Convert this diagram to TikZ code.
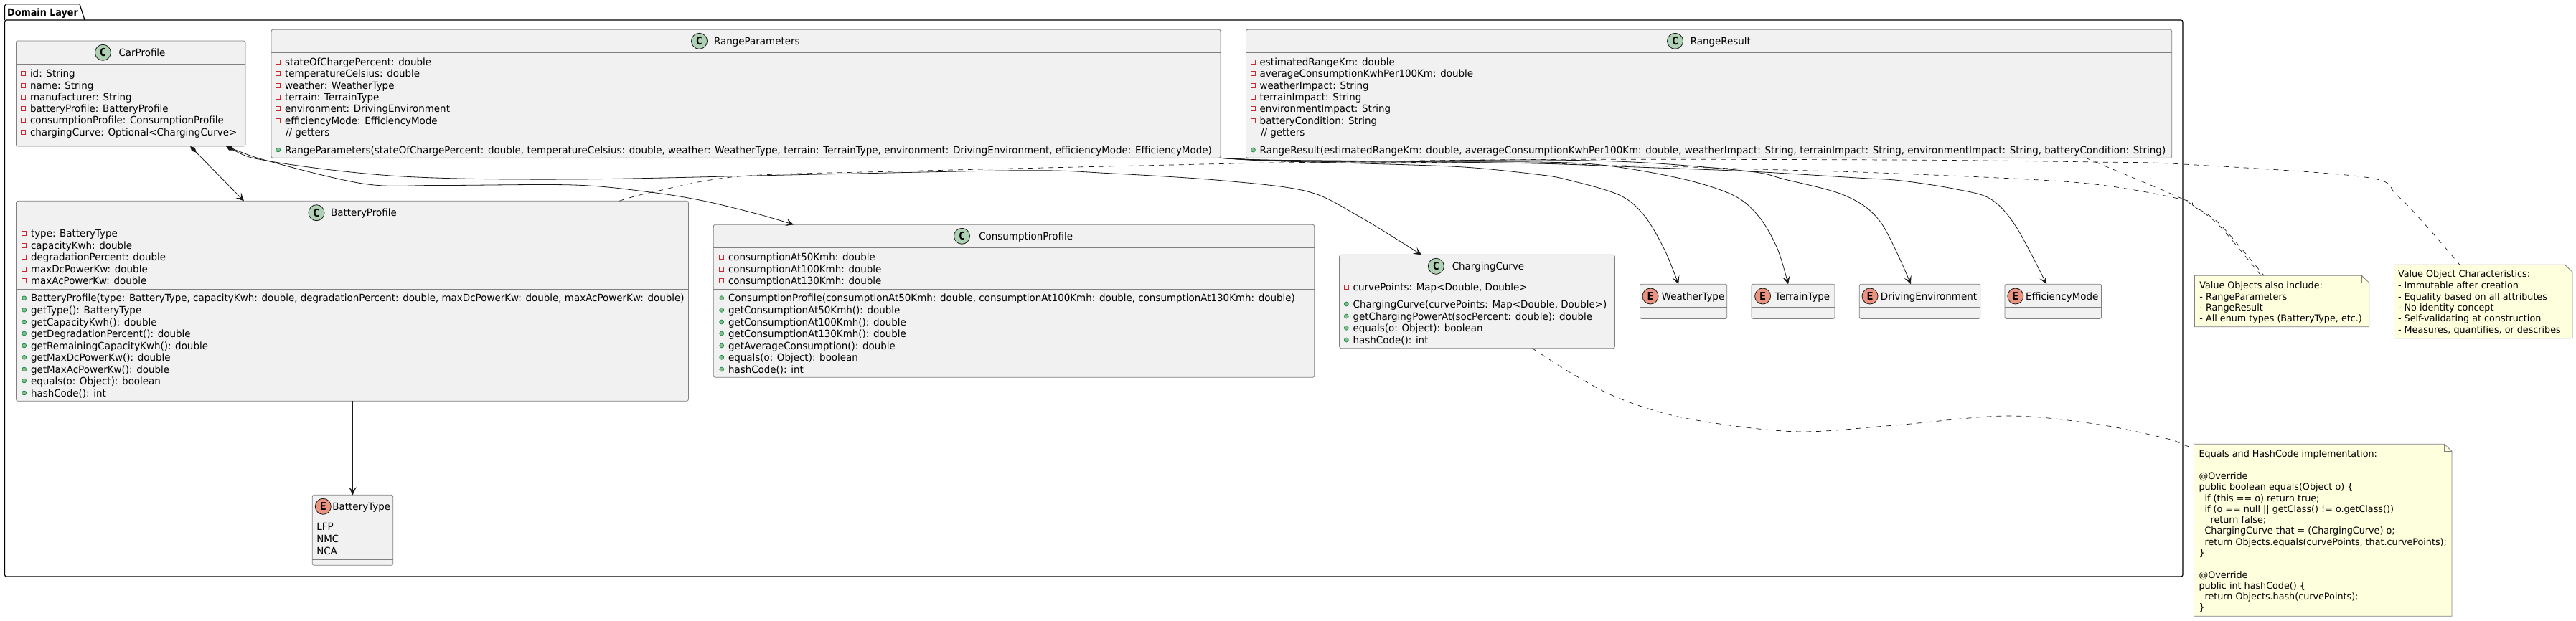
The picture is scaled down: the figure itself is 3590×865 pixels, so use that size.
\documentclass[tikz,border=0pt]{standalone}
\usepackage{fontspec}
\setmainfont[FakeStretch=0.96]{DejaVu Sans}
\newfontfamily\notefont[FakeStretch=0.98]{DejaVu Sans}
\newfontfamily\iconfont{DejaVu Sans Mono}
\newfontfamily\pkgfont[FakeStretch=0.91]{DejaVu Sans}
\usetikzlibrary{arrows.meta}
\definecolor{lineink}{HTML}{181818}
\definecolor{boxedge}{HTML}{808080}
\definecolor{boxfill}{HTML}{F1F1F1}
\definecolor{classicon}{HTML}{ADD1B2}
\definecolor{enumicon}{HTML}{EB937F}
\definecolor{notefill}{HTML}{FEFFDD}
\definecolor{privred}{HTML}{C82930}
\definecolor{pubgreen}{HTML}{84BE84}
\definecolor{pubedge}{HTML}{038048}
\newcounter{lbl}
\tikzset{
  x=1pt,y=-1pt,
  umlbox/.style={draw=boxedge,fill=boxfill,line width=0.8pt,rounded corners=2.5pt,inner sep=0pt,outer sep=0pt},
  umlsep/.style={draw=boxedge,line width=0.8pt},
  member/.style={anchor=base west,inner sep=0pt,outer sep=0pt,font=\fontsize{14}{16}\selectfont,text=black},
  title/.style={anchor=base,inner sep=0pt,outer sep=0pt,font=\fontsize{14}{16}\selectfont,text=black},
  notetext/.style={anchor=base west,inner sep=0pt,outer sep=0pt,font=\notefont\fontsize{13}{15}\selectfont,text=black},
  privmark/.style={draw=privred,line width=0.8pt,fill=none,minimum size=6pt,inner sep=0pt,outer sep=0pt},
  pubmark/.style={circle,draw=pubedge,line width=0.6pt,fill=pubgreen,minimum size=6pt,inner sep=0pt,outer sep=0pt},
  iconmark/.style={circle,draw=lineink,line width=0.8pt,minimum size=22pt,inner sep=0pt,outer sep=0pt,font=\iconfont\bfseries\fontsize{15}{15}\selectfont,text=black},
  assoc/.style={draw=lineink,line width=0.8pt,arrows={-Stealth[length=11pt,width=10.5pt,inset=5pt]}},
  compo/.style={draw=lineink,line width=0.8pt,arrows={Diamond[length=12pt,width=6.5pt]-Stealth[length=11pt,width=10.5pt,inset=5pt]}},
  notelink/.style={draw=lineink,line width=0.7pt,dash pattern=on 7pt off 7pt},
  notebody/.style={draw=boxedge,line width=0.8pt,fill=notefill},
  anchorbox/.style={inner sep=0pt,outer sep=0pt},
}
\newcommand\mkbox[5]{%
  \pgfmathsetmacro\bxa{#2}\pgfmathsetmacro\bxb{#4}%
  \pgfmathsetmacro\bcx{(#2+#4)/2}\pgfmathsetmacro\bcy{(#3+#5)/2}%
  \pgfmathsetmacro\bw{#4-#2}\pgfmathsetmacro\bh{#5-#3}%
  \node[umlbox,minimum width=\bw pt,minimum height=\bh pt] (#1) at (\bcx,\bcy) {};}
\newcommand\hsep[1]{\draw[umlsep] (\bxa,#1) -- (\bxb,#1);}
\newcommand\classhead[5]{% icon x, y, icon letter colour, letter, title centre x
  \stepcounter{lbl}\node[iconmark,fill=#3] (ic\arabic{lbl}) at (#1,#2) {#4};%
  \pgfmathsetmacro\bsl{#2+5}\node[title] (tt\arabic{lbl}) at (#5,\bsl) {\umltitle};}
\newcommand\umltitle{}
\newcommand\cname[6]{\renewcommand\umltitle{#6}\classhead{#1}{#2}{#3}{#4}{#5}}
\newcommand\privline[3]{\stepcounter{lbl}\pgfmathsetmacro\mx{#1-9.3}\pgfmathsetmacro\bsl{#2+5}%
  \node[privmark] (pm\arabic{lbl}) at (\mx,#2) {};\node[member] (pt\arabic{lbl}) at (#1,\bsl) {#3};}
\newcommand\publine[3]{\stepcounter{lbl}\pgfmathsetmacro\mx{#1-9.3}\pgfmathsetmacro\bsl{#2+5}%
  \node[pubmark] (pm\arabic{lbl}) at (\mx,#2) {};\node[member] (pt\arabic{lbl}) at (#1,\bsl) {#3};}
\newcommand\plainline[3]{\stepcounter{lbl}\pgfmathsetmacro\bsl{#2+5}\node[member] (pt\arabic{lbl}) at (#1,\bsl) {#3};}
\newcommand\noteline[3]{\stepcounter{lbl}\pgfmathsetmacro\bsl{#2+4.5}\node[notetext] (nt\arabic{lbl}) at (#1,\bsl) {#3};}
\newcommand\mknote[5]{% name x0 y0 x1 y1
  \pgfmathsetmacro\bcx{(#2+#4)/2}\pgfmathsetmacro\bcy{(#3+#5)/2}%
  \pgfmathsetmacro\bw{#4-#2}\pgfmathsetmacro\bh{#5-#3}%
  \pgfmathsetmacro\fx{#4-10.5}\pgfmathsetmacro\fy{#3+10}%
  \node[anchorbox,minimum width=\bw pt,minimum height=\bh pt] (#1) at (\bcx,\bcy) {};%
  \draw[notebody] (#2,#3) -- (\fx,#3) -- (#4,\fy) -- (#4,#5) -- (#2,#5) -- cycle;%
  \draw[umlsep] (\fx,#3) -- (\fx,\fy) -- (#4,\fy);}
\begin{document}
\begin{tikzpicture}
\useasboundingbox (0,0) rectangle (3590,865);
\fill[white] (0,0) rectangle (3590,865);

% package
\draw[black,line width=1.2pt,line join=round] (6.6,28) -- (6.6,8) -- (9,5.7) -- (111,5.7) -- (118,28);
\node[draw=black,line width=1.2pt,rounded corners=2.5pt,inner sep=0pt,outer sep=0pt,minimum width=3035.4pt,minimum height=776pt] (pkg) at (1524.3,416) {};
\node[anchor=base west,inner sep=0pt,font=\pkgfont\bfseries\fontsize{14}{16}\selectfont] (pkgtitle) at (10,22) {Domain Layer};

% CarProfile
\mkbox{car}{22.4}{57}{342}{204}\hsep{89.5}\hsep{196.5}
\cname{143.4}{73.3}{classicon}{C}{198}{CarProfile}
\privline{42}{102.3}{id: String}
\privline{42}{119}{name: String}
\privline{42}{135}{manufacturer: String}
\privline{42}{151}{batteryProfile: BatteryProfile}
\privline{42}{167.7}{consumptionProfile: ConsumptionProfile}
\privline{42}{184}{chargingCurve: Optional<ChargingCurve>}

% RangeParameters
\mkbox{rp}{378}{41.3}{1701}{220.3}\hsep{73.3}\hsep{196.3}
\cname{974.5}{57.3}{classicon}{C}{1054.8}{RangeParameters}
\privline{397}{86}{stateOfChargePercent: double}
\privline{397}{102}{temperatureCelsius: double}
\privline{397}{119}{weather: WeatherType}
\privline{397}{135}{terrain: TerrainType}
\privline{397}{151}{environment: DrivingEnvironment}
\privline{397}{168}{efficiencyMode: EfficiencyMode}
\plainline{398}{184}{// getters}
\publine{397}{209}{RangeParameters(stateOfChargePercent: double, temperatureCelsius: double, weather: WeatherType, terrain: TerrainType, environment: DrivingEnvironment, efficiencyMode: EfficiencyMode)}

% RangeResult
\mkbox{rr}{1736.4}{41.3}{3026.7}{220.3}\hsep{73.3}\hsep{196.3}
\cname{2334.5}{57.3}{classicon}{C}{2397.8}{RangeResult}
\privline{1755.7}{86}{estimatedRangeKm: double}
\privline{1755.7}{102}{averageConsumptionKwhPer100Km: double}
\privline{1755.7}{119}{weatherImpact: String}
\privline{1755.7}{135}{terrainImpact: String}
\privline{1755.7}{151}{environmentImpact: String}
\privline{1755.7}{168}{batteryCondition: String}
\plainline{1757}{184}{// getters}
\publine{1755.7}{209}{RangeResult(estimatedRangeKm: double, averageConsumptionKwhPer100Km: double, weatherImpact: String, terrainImpact: String, environmentImpact: String, batteryCondition: String)}

% BatteryProfile
\mkbox{bp}{22.5}{280.3}{959.4}{559.3}\hsep{312.3}\hsep{403.7}
\cname{441}{296.7}{classicon}{C}{507}{BatteryProfile}
\privline{43}{325}{type: BatteryType}
\privline{43}{342}{capacityKwh: double}
\privline{43}{358}{degradationPercent: double}
\privline{43}{375}{maxDcPowerKw: double}
\privline{43}{391}{maxAcPowerKw: double}
\publine{43}{415.7}{BatteryProfile(type: BatteryType, capacityKwh: double, degradationPercent: double, maxDcPowerKw: double, maxAcPowerKw: double)}
\publine{43}{432.3}{getType(): BatteryType}
\publine{43}{449}{getCapacityKwh(): double}
\publine{43}{465}{getDegradationPercent(): double}
\publine{43}{482}{getRemainingCapacityKwh(): double}
\publine{43}{498.3}{getMaxDcPowerKw(): double}
\publine{43}{515}{getMaxAcPowerKw(): double}
\publine{43}{531}{equals(o: Object): boolean}
\publine{43}{548}{hashCode(): int}

% ConsumptionProfile
\mkbox{cp}{994.3}{313.3}{1831.8}{526.3}\hsep{345.3}\hsep{403.7}
\cname{1340.5}{329.3}{classicon}{C}{1429.7}{ConsumptionProfile}
\privline{1015}{358}{consumptionAt50Kmh: double}
\privline{1015}{375}{consumptionAt100Kmh: double}
\privline{1015}{391}{consumptionAt130Kmh: double}
\publine{1015}{415.7}{ConsumptionProfile(consumptionAt50Kmh: double, consumptionAt100Kmh: double, consumptionAt130Kmh: double)}
\publine{1015}{432.3}{getConsumptionAt50Kmh(): double}
\publine{1015}{449}{getConsumptionAt100Kmh(): double}
\publine{1015}{465}{getConsumptionAt130Kmh(): double}
\publine{1015}{482}{getAverageConsumption(): double}
\publine{1015}{498.3}{equals(o: Object): boolean}
\publine{1015}{515}{hashCode(): int}

% ChargingCurve
\mkbox{cc}{1866.6}{355.3}{2250.4}{485.7}\hsep{387.3}\hsep{411.7}
\cname{2001.3}{371.3}{classicon}{C}{2074}{ChargingCurve}
\privline{1885.6}{400.3}{curvePoints: Map<Double, Double>}
\publine{1885.6}{424}{ChargingCurve(curvePoints: Map<Double, Double>)}
\publine{1885.6}{441}{getChargingPowerAt(socPercent: double): double}
\publine{1885.6}{457.3}{equals(o: Object): boolean}
\publine{1885.6}{474}{hashCode(): int}

% enums
\mkbox{wt}{2285.5}{396.2}{2406.8}{444.5}\hsep{428.3}\hsep{436.3}
\cname{2300}{413}{enumicon}{E}{2359.5}{WeatherType}
\mkbox{tt}{2441}{396.2}{2557}{444.5}\hsep{428.3}\hsep{436.3}
\cname{2456.6}{413}{enumicon}{E}{2512}{TerrainType}
\mkbox{de}{2591.3}{396.2}{2759.6}{444.5}\hsep{428.3}\hsep{436.3}
\cname{2606}{413}{enumicon}{E}{2688}{DrivingEnvironment}
\mkbox{em}{2794}{396.2}{2928.6}{444.5}\hsep{428.3}\hsep{436.3}
\cname{2808.8}{413}{enumicon}{E}{2873.7}{EfficiencyMode}
\mkbox{bt}{435.3}{690.3}{547.7}{788.3}\hsep{722.7}\hsep{780.3}
\cname{450.3}{706.3}{enumicon}{E}{503.8}{BatteryType}
\plainline{441.3}{734.3}{LFP}
\plainline{441.3}{751}{NMC}
\plainline{441.3}{768}{NCA}

% notes
\mknote{na}{3058.4}{384.3}{3301.7}{455.7}
\noteline{3065.4}{397.7}{Value Objects also include:}
\noteline{3065.4}{413.7}{- RangeParameters}
\noteline{3065.4}{428.7}{- RangeResult}
\noteline{3065.4}{444}{- All enum types (BatteryType, etc.)}
\mknote{nb}{3336.5}{369.3}{3585}{471.7}
\noteline{3342}{382.3}{Value Object Characteristics:}
\noteline{3342}{397.7}{- Immutable after creation}
\noteline{3342}{413.7}{- Equality based on all attributes}
\noteline{3342}{428.7}{- No identity concept}
\noteline{3342}{444}{- Self-validating at construction}
\noteline{3342}{459.7}{- Measures, quantifies, or describes}
\mknote{nc}{3057.5}{619.3}{3417}{859.3}
\noteline{3064.6}{632.7}{Equals and HashCode implementation:}
\noteline{3064.6}{663.7}{@Override}
\noteline{3064.6}{678.7}{public boolean equals(Object o) \{}
\noteline{3072.5}{694.7}{if (this == o) return true;}
\noteline{3072.5}{709.7}{if (o == null || getClass() != o.getClass())}
\noteline{3080.5}{724.7}{return false;}
\noteline{3072.5}{739.7}{ChargingCurve that = (ChargingCurve) o;}
\noteline{3072.5}{755.7}{return Objects.equals(curvePoints, that.curvePoints);}
\noteline{3064.6}{770.7}{\}}
\noteline{3064.6}{801.7}{@Override}
\noteline{3064.6}{816.7}{public int hashCode() \{}
\noteline{3072.5}{831.7}{return Objects.hash(curvePoints);}
\noteline{3064.6}{846.7}{\}}

% connectors
\draw[compo] ([xshift=83pt]car.south) -- ([xshift=-151pt]bp.north);
\draw[compo] plot[smooth,tension=.55] coordinates {([xshift=133pt]car.south) (383,227) (510,256.7) (612,258.5) (800,258) (906,268) (980,280) (1058,299) ([xshift=-307pt]cp.north)};
\draw[compo] plot[smooth,tension=.55] coordinates {([xshift=133pt]car.south) (383,226) (561,246) (800,250) (1144,243) (1431,237.7) (1546,241.7) (1700,251.5) (1821,266.7) (1891,300) ([xshift=-77.5pt]cc.north)};
\draw[assoc] (bp.south -| bt.north) -- (bt.north);
\draw[assoc] plot[smooth,tension=.55] coordinates {(rp.south east) (1760,224) (1900,228) (2040,233) (2140,243) (2182,250) (2256,271.7) (2291,300) (2319,346.7) ([xshift=-7pt]wt.north)};
\draw[assoc] plot[smooth,tension=.55] coordinates {(rp.south east) (1760,223.5) (1900,226) (2140,226) (2240,231) (2347,250) (2417,273) (2452,303) (2477,346.7) ([xshift=-7pt]tt.north)};
\draw[assoc] plot[smooth,tension=.55] coordinates {(rp.south east) (1760,223) (1900,225) (2140,223) (2289,226.7) (2438,239) (2487,250) (2572,273) (2621,310) ([xshift=-12.5pt]de.north)};
\draw[assoc] plot[smooth,tension=.55] coordinates {(rp.south east) (1760,223) (1900,224.5) (2140,228) (2289,233.3) (2438,239) (2588,248) (2650,252) (2727,264) (2775,278) (2810,316.7) ([xshift=-9.3pt]em.north)};
\draw[notelink] plot[smooth,tension=.55] coordinates {([xshift=372pt]bp.north) (909,268) (1030,246) (1259,238.7) (1700,228.5) (1800,226.7) (2140,222.5) (2637,223) (2920,226) (3042,229) (3296,247) (3340,272) (3384,318) ([xshift=-32.75pt]nb.north)};
\draw[notelink] plot[smooth,tension=.55] coordinates {(rp.south east) (1800,225.5) (1900,226) (2140,227.7) (2240,230.7) (2314,231.7) (2438,235.7) (2637,241.7) (2900,255) (3041,278) (3058,288) (3094,313) ([xshift=-25pt]na.north)};
\draw[notelink] plot[smooth,tension=.55] coordinates {([xshift=525.5pt]rr.south) (2922,226.7) (3032,273) (3058,288) (3094,316) ([xshift=-29pt]na.north)};
\draw[notelink] plot[smooth,tension=.55] coordinates {([xshift=77pt]cc.south) (2194.6,523.3) (2257.8,556) (2349.6,583.3) (2499,601.7) (2636.6,593.3) (2797,580) (2923.6,591.7) (3020,611.7) (3042,620) ([yshift=-5.7pt]nc.north west)};
\end{tikzpicture}
\end{document}
